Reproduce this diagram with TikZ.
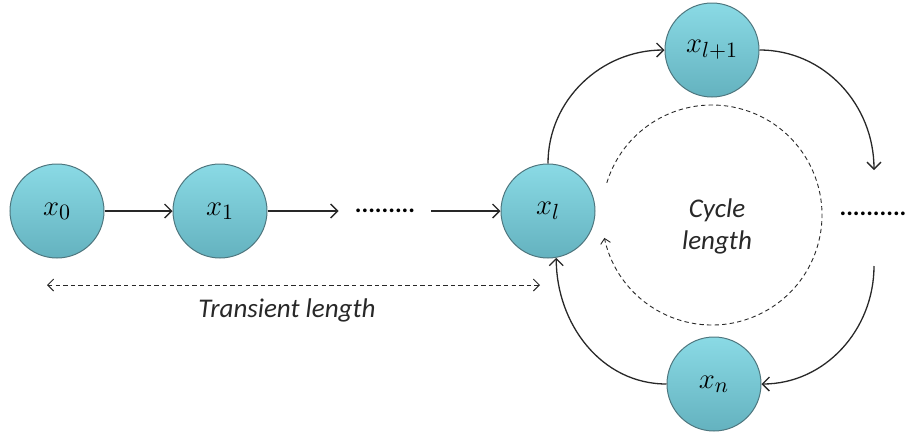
\documentclass[tikz,border=0pt]{standalone}
\usepackage{fontspec}
\newfontfamily\labelfont{Carlito}
\usetikzlibrary{arrows.meta}
\definecolor{balltop}{RGB}{138,218,229}
\definecolor{ballbot}{RGB}{100,178,191}
\definecolor{ballrim}{RGB}{78,118,126}
\definecolor{ink}{RGB}{40,40,40}
\tikzset{
  state/.style={circle, draw=ballrim, line width=0.5pt, top color=balltop,
    bottom color=ballbot, minimum size=47pt, inner sep=0pt,
    font=\fontsize{15}{17}\selectfont},
  dots/.style={font=\labelfont\bfseries\fontsize{12.5}{14}\selectfont,
    text height=1pt, text depth=0pt, inner xsep=8pt, inner ysep=2pt},
  lbl/.style={font=\labelfont\itshape\fontsize{13.5}{16}\selectfont, text=ink},
  link/.style={-{Straight Barb[length=3.5pt, width=7pt]}, line width=0.65pt, draw=ink},
  guide/.style={dash pattern=on 2.2pt off 1.6pt, line width=0.45pt, draw=ink}
}
\begin{document}
\begin{tikzpicture}[x=0.5pt, y=0.5pt]
  \useasboundingbox (0,0) rectangle (907,-436);
  \draw
    (57,-211) node[state] (x0) {$x_0$}
    (220,-211) node[state] (x1) {$x_1$}
    (385,-211) node[dots] (d1) {.........}
    (548,-211) node[state] (xl) {$x_l$}
    (712,-50) node[state] (xl1) {$x_{l+1}$}
    (873,-214) node[dots] (d2) {..........}
    (714,-384) node[state] (xn) {$x_n$};
  \coordinate (c1) at (874,-170);
  \coordinate (c2) at (874,-266);
  \coordinate (t1) at (47,-285);
  \coordinate (t2) at (540,-285);
  \begin{scope}[link]
    \draw (x0) -- (x1);
    \draw (x1) -- (d1);
    \draw (d1) -- (xl);
    \draw (xl.north) to[out=90, in=180] (xl1.west);
    \draw (xl1.east) to[out=0, in=90] (c1);
    \draw (c2) to[out=-90, in=0] (xn.east);
    \draw (xn.west) to[out=180, in=-90] (xl.-80);
  \end{scope}
  \draw[guide, {Straight Barb[length=3pt, width=6pt]}-{Straight Barb[length=3pt, width=6pt]}] (t1) -- (t2);
  \draw[guide, -{Straight Barb[length=2.5pt, width=5pt]}] (712,-215) +(163:110) arc[start angle=163, end angle=-168, radius=110];
  \node[lbl] (tl) at (287,-310) {Transient length};
  \node[lbl, align=center] (cl) at (717,-226) {Cycle\\length};
\end{tikzpicture}
\end{document}
